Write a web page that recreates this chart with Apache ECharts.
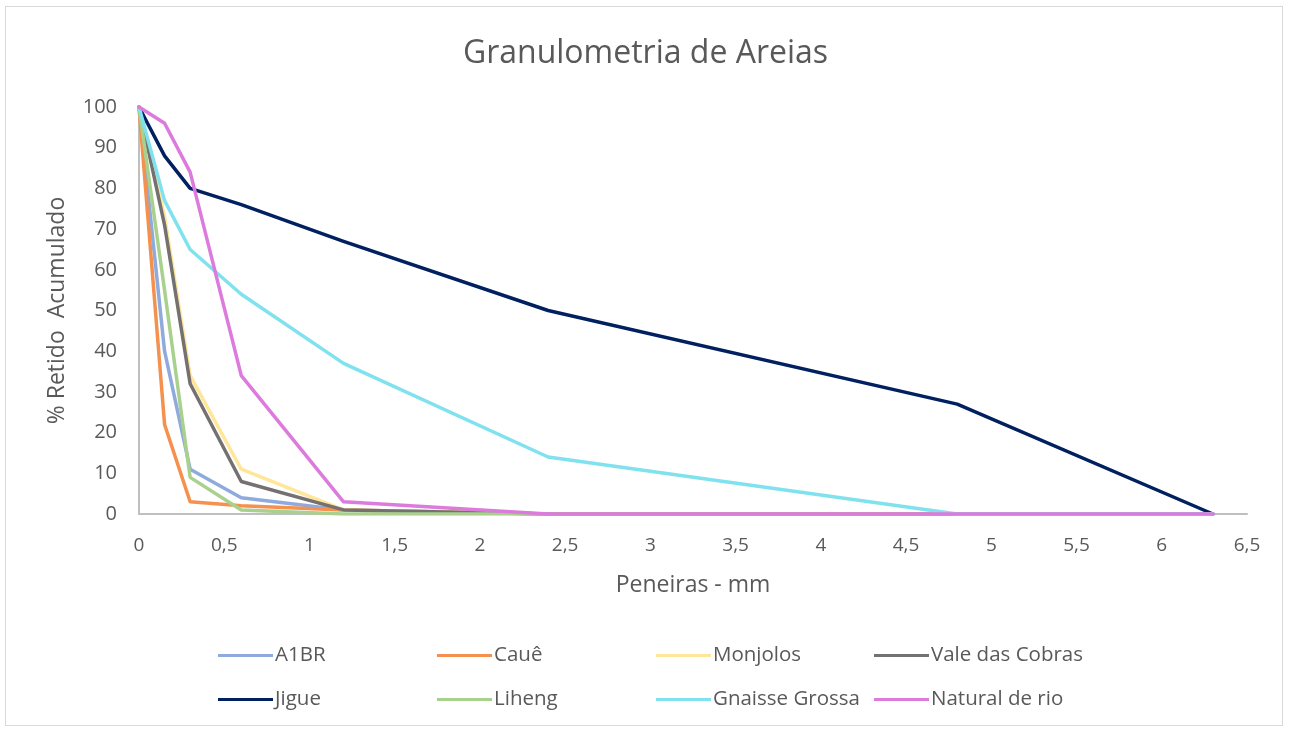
<!DOCTYPE html>
<html>
<head>
<meta charset="utf-8">
<title>Granulometria de Areias</title>
<script src="https://cdn.jsdelivr.net/npm/echarts@6/dist/echarts.min.js"></script>
<style>
  html, body { margin: 0; padding: 0; background: #ffffff; }
  #frame { position: absolute; left: 5px; top: 6px; width: 1278px; height: 720px; border: 1px solid #d9d9d9; box-sizing: border-box; }
  #chart { position: absolute; left: 0; top: 0; width: 1291px; height: 731px; }
</style>
</head>
<body>
<div id="frame"></div>
<div id="chart"></div>
<script>
// Sieve openings (mm) and cumulative retained percentage per sand
const peneiras = [0, 0.15, 0.3, 0.6, 1.2, 2.4, 4.8, 6.3];

const a1br          = [100, 40, 11, 4, 1, 0, 0, 0];
const caue          = [100, 22, 3, 2, 1, 0, 0, 0];
const monjolos      = [100, 73, 34, 11, 1, 0, 0, 0];
const valeDasCobras = [100, 71, 32, 8, 1, 0, 0, 0];
const jigue         = [100, 88, 80, 76, 67, 50, 27, 0];
const liheng        = [100, 55, 9, 1, 0, 0, 0, 0];
const gnaisseGrossa = [100, 77, 65, 54, 37, 14, 0, 0];
const naturalDeRio  = [100, 96, 84, 34, 3, 0, 0, 0];

const serieNomes = ['A1BR', 'Cauê', 'Monjolos', 'Vale das Cobras', 'Jigue', 'Liheng', 'Gnaisse Grossa', 'Natural de rio'];
const serieValores = [a1br, caue, monjolos, valeDasCobras, jigue, liheng, gnaisseGrossa, naturalDeRio];
const serieCores = ['#8faadc', '#f4914e', '#ffe699', '#767171', '#002060', '#a9d18e', '#7fe2ee', '#dd7bdd'];

const fonte = '"Open Sans", "Noto Sans", sans-serif';

const chart = echarts.init(document.getElementById('chart'), null, { renderer: 'canvas' });

const series = serieNomes.map((nome, i) => ({
  name: nome,
  type: 'line',
  data: peneiras.map((x, j) => [x, serieValores[i][j]]),
  symbol: 'none',
  lineStyle: { width: 3.5, color: serieCores[i], cap: 'round', join: 'round' },
  itemStyle: { color: serieCores[i] },
  emphasis: { disabled: true },
  animation: false
}));

// Legend laid out as a 4 x 2 table
const colLeft = [218, 437, 656, 874];
const rowTop = [645, 689];
const legends = serieNomes.map((nome, i) => ({
  data: [nome],
  left: colLeft[i % 4],
  top: rowTop[Math.floor(i / 4)],
  icon: 'rect',
  itemWidth: 55,
  itemHeight: 3,
  padding: 0,
  selectedMode: false,
  textStyle: { fontFamily: fonte, fontSize: 20.5, color: '#595959', padding: [0, 0, 0, -3] }
}));

chart.setOption({
  backgroundColor: 'transparent',
  title: {
    text: 'Granulometria de Areias',
    left: 'center',
    top: 33,
    textStyle: { fontFamily: fonte, fontSize: 32, fontWeight: 'normal', color: '#595959' }
  },
  legend: legends,
  grid: { left: 139, right: 44, top: 107, bottom: 217, containLabel: false },
  xAxis: {
    type: 'value',
    min: 0,
    max: 6.5,
    interval: 0.5,
    name: 'Peneiras - mm',
    nameLocation: 'middle',
    nameGap: 60,
    nameTextStyle: { fontFamily: fonte, fontSize: 23, color: '#595959' },
    axisLine: { show: true, onZero: false, lineStyle: { color: '#bfbfbf', width: 2 } },
    axisTick: { show: false },
    splitLine: { show: false },
    axisLabel: {
      margin: 22,
      fontFamily: fonte,
      fontSize: 19,
      color: '#595959',
      formatter: v => String(v).replace('.', ',')
    }
  },
  yAxis: {
    type: 'value',
    min: 0,
    max: 100,
    interval: 10,
    name: '% Retido  Acumulado',
    nameLocation: 'middle',
    nameGap: 70,
    nameTextStyle: { fontFamily: fonte, fontSize: 23, color: '#595959' },
    axisLine: { show: true, lineStyle: { color: '#bfbfbf', width: 2 } },
    axisTick: { show: false },
    splitLine: { show: false },
    axisLabel: { margin: 22, fontFamily: fonte, fontSize: 20, color: '#595959' }
  },
  series: series
});
</script>
</body>
</html>
